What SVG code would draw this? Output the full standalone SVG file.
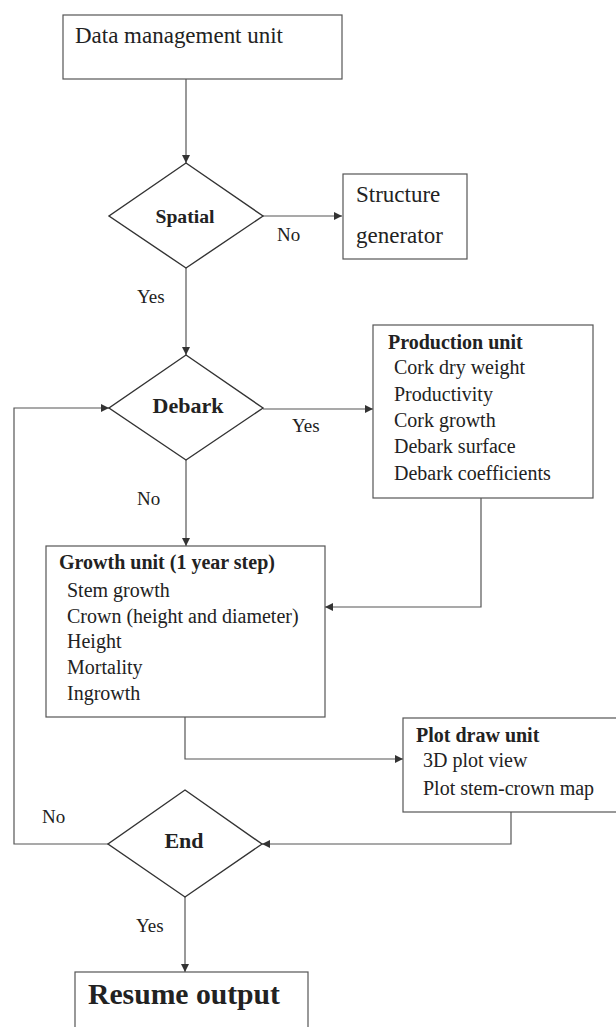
<svg xmlns="http://www.w3.org/2000/svg" width="616" height="1027" viewBox="0 0 616 1027">
<style>
.box{fill:none;stroke:#555;stroke-width:1.2}
.dia{fill:none;stroke:#333;stroke-width:1.4}
.con{fill:none;stroke:#555;stroke-width:1.2}
text{font-family:"Liberation Serif","Times New Roman",serif;fill:#222}
.t23{font-size:23px}
.t20{font-size:20px}
.b20{font-size:20px;font-weight:bold}
.lbl{font-size:19px}
.dl{font-weight:bold;text-anchor:middle}
</style>
<defs>
<marker id="ah" viewBox="0 0 10 10" refX="10" refY="5" markerWidth="9" markerHeight="8" markerUnits="userSpaceOnUse" orient="auto">
<path d="M0,0 L10,5 L0,10 z" fill="#333"/>
</marker>
</defs>
<rect width="616" height="1027" fill="#fff"/>

<g id="connectors">
<path class="con" d="M186,79 V163" marker-end="url(#ah)"/>
<path class="con" d="M263,216 H342" marker-end="url(#ah)"/>
<path class="con" d="M186,268 V355" marker-end="url(#ah)"/>
<path class="con" d="M263,409 H373" marker-end="url(#ah)"/>
<path class="con" d="M186,460 V546" marker-end="url(#ah)"/>
<path class="con" d="M481,498 V607 H325" marker-end="url(#ah)"/>
<path class="con" d="M185,717 V759 H403" marker-end="url(#ah)"/>
<path class="con" d="M511,812 V844 H262" marker-end="url(#ah)"/>
<path class="con" d="M108,844 H14 V408 H109" marker-end="url(#ah)"/>
<path class="con" d="M185,897 V972" marker-end="url(#ah)"/>
<text class="lbl" x="277" y="241">No</text>
<text class="lbl" x="137" y="303">Yes</text>
<text class="lbl" x="292" y="432">Yes</text>
<text class="lbl" x="137" y="505">No</text>
<text class="lbl" x="42" y="823">No</text>
<text class="lbl" x="136" y="932">Yes</text>
</g>

<g id="data-management">
<rect class="box" x="63" y="15" width="279" height="64"/>
<text class="t23" x="75" y="43" textLength="208" lengthAdjust="spacingAndGlyphs">Data management unit</text>
</g>

<g id="spatial">
<polygon class="dia" points="186,163 263,216 186,268 109,216"/>
<text class="dl" x="185" y="223" font-size="19.5" textLength="59" lengthAdjust="spacingAndGlyphs">Spatial</text>
</g>

<g id="structure-generator">
<rect class="box" x="343" y="174" width="124" height="85"/>
<text class="t23" x="356" y="202">Structure</text>
<text class="t23" x="356" y="243">generator</text>
</g>

<g id="debark">
<polygon class="dia" points="186,355 263,408 186,460 109,408"/>
<text class="dl" x="188" y="413" font-size="22">Debark</text>
</g>

<g id="production-unit">
<rect class="box" x="373" y="325" width="220" height="173"/>
<text class="b20" x="388" y="349">Production unit</text>
<text class="t20" x="394" y="374">Cork dry weight</text>
<text class="t20" x="394" y="401">Productivity</text>
<text class="t20" x="394" y="427">Cork growth</text>
<text class="t20" x="394" y="453">Debark surface</text>
<text class="t20" x="394" y="480">Debark coefficients</text>
</g>

<g id="growth-unit">
<rect class="box" x="46" y="546" width="279" height="171"/>
<text class="b20" x="59" y="569">Growth unit (1 year step)</text>
<text class="t20" x="67" y="597">Stem growth</text>
<text class="t20" x="67" y="623">Crown (height and diameter)</text>
<text class="t20" x="67" y="648">Height</text>
<text class="t20" x="67" y="674">Mortality</text>
<text class="t20" x="67" y="700">Ingrowth</text>
</g>

<g id="plot-draw-unit">
<rect class="box" x="403" y="718" width="230" height="94"/>
<text class="b20" x="416" y="742">Plot draw unit</text>
<text class="t20" x="423" y="767">3D plot view</text>
<text class="t20" x="423" y="795">Plot stem-crown map</text>
</g>

<g id="end">
<polygon class="dia" points="185,790 262,844 185,897 108,844"/>
<text class="dl" x="184" y="848" font-size="22">End</text>
</g>

<g id="resume-output">
<rect class="box" x="75" y="972" width="233" height="80"/>
<text x="88" y="1004" font-size="29.5" font-weight="bold" textLength="192" lengthAdjust="spacingAndGlyphs">Resume output</text>
</g>
</svg>
